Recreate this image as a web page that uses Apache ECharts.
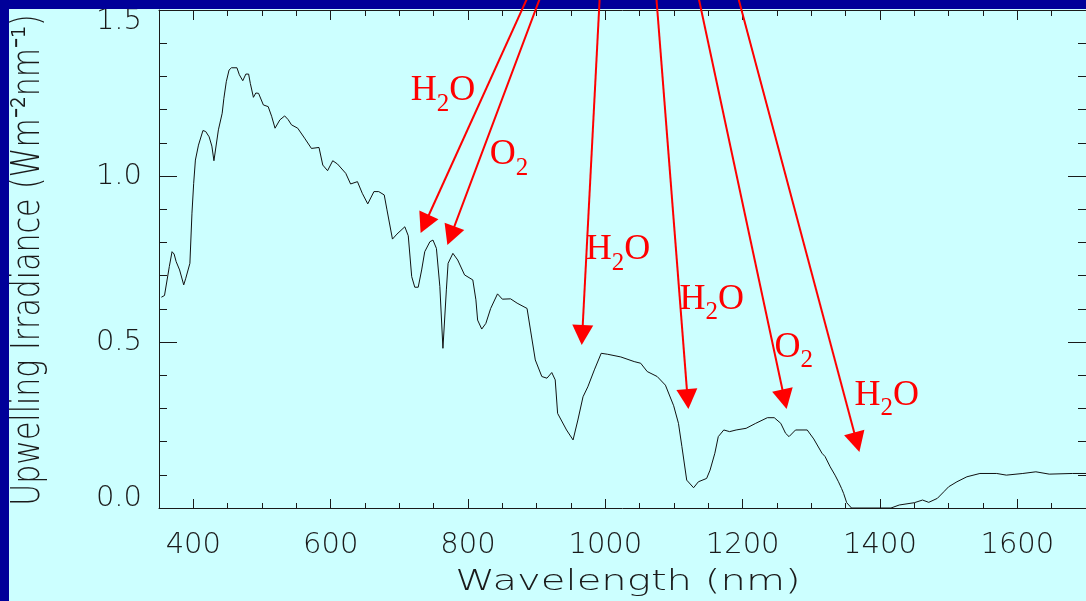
<!DOCTYPE html>
<html>
<head>
<meta charset="utf-8">
<script src="https://cdn.jsdelivr.net/npm/echarts@6.0.0/dist/echarts.min.js"></script>
<style>
html,body{margin:0;padding:0;background:#000099;}
#chart{width:1086px;height:601px;}
</style>
</head>
<body>
<div id="chart"></div>
<script>
// ---------------- data ----------------
const wavelength = [
  353.5,358,365,369,372,375,380,386,389,395,398,400.5,403,407.5,414,418,423,427,430,432,
  436.5,442,444.5,448,452,455.5,463.5,467,472,476.5,480.5,483,487.5,491,495,502,509,514,519,526,
  533,538,543,552,562,572,583,588.5,595.5,603,610,622,629,639,646,654,663,670,678,682,
  690,696.5,708,713,718,722.5,727.5,732.5,737,744.5,749,754,759,763.5,768.5,771,778,785,795,807,
  811.5,814,820,826,833,843,850,862,871.5,886,891,898,907.5,915,922,927,930.5,943.5,953,960,
  967.5,974.5,984,994,1003.5,1022.5,1042,1051.5,1061,1075.5,1087.5,1099.5,1106.5,1111.5,1118.5,1128.5,1135.5,1147.5,1152.5,1159.5,
  1164.5,1172.5,1181,1190.5,1205,1219,1236,1246,1255.5,1262.5,1267.5,1277,1294,1303.5,1315.5,1320,1327.5,1334.5,1339.5,1344,
  1347,1351.5,1358.5,1416,1428,1450,1462,1471,1483.5,1493,1500,1512,1526.5,1545.5,1570,1584,1608,1627,1646.5,1680,1700
];
const irradiance = [
  0.635,0.640,0.727,0.772,0.765,0.742,0.717,0.672,0.692,0.737,0.888,0.978,1.048,1.093,1.137,1.134,1.118,1.090,1.046,1.050,
  1.139,1.189,1.234,1.284,1.319,1.326,1.326,1.305,1.287,1.307,1.307,1.279,1.237,1.250,1.249,1.214,1.209,1.180,1.144,1.169,
  1.181,1.170,1.154,1.144,1.114,1.083,1.086,1.033,1.016,1.046,1.036,1.008,0.976,0.983,0.948,0.916,0.953,0.953,0.943,0.898,
  0.810,0.825,0.847,0.820,0.697,0.665,0.665,0.717,0.772,0.802,0.807,0.782,0.667,0.481,0.657,0.737,0.767,0.747,0.702,0.687,
  0.627,0.566,0.539,0.556,0.601,0.645,0.629,0.630,0.617,0.601,0.536,0.446,0.396,0.391,0.408,0.386,0.285,0.235,0.205,0.265,
  0.335,0.365,0.416,0.466,0.463,0.455,0.441,0.436,0.411,0.396,0.370,0.308,0.255,0.185,0.084,0.061,0.079,0.089,0.114,0.165,
  0.215,0.235,0.230,0.235,0.240,0.255,0.272,0.272,0.255,0.225,0.215,0.235,0.235,0.208,0.165,0.155,0.124,0.099,0.079,0.059,
  0.044,0.016,0.000,0.000,0.009,0.016,0.024,0.017,0.029,0.049,0.064,0.079,0.094,0.104,0.104,0.099,0.104,0.109,0.102,0.104,0.104
];

const xMajorTicks = [400,600,800,1000,1200,1400,1600];
const xMinorTicks = [350,400,450,500,550,600,650,700,750,800,850,900,950,1000,1050,1100,1150,1200,1250,1300,1350,1400,1450,1500,1550,1600,1650,1700];
const yTickLabels = {0:'0.0', 0.5:'0.5', 1:'1.0', 1.5:'1.5'};

const xTitle = 'Wavelength (nm)';
const yTitle = 'Upwelling Irradiance (Wm⁻²nm⁻¹)';

// absorption-band annotations: [molecule main letters], label anchor (wavelength, irradiance), arrow tail & tip
const bandLabels   = [['H','2','O'],['O','2',''],['H','2','O'],['H','2','O'],['O','2',''],['H','2','O']];
const labelAnchors = [[716.6,1.220],[831.7,1.027],[971.4,0.741],[1108,0.593],[1246.4,0.446],[1362.9,0.304]];
const arrowTails   = [[888.3,1.545],[906.5,1.545],[992,1.545],[1074,1.545],[1135,1.545],[1192.5,1.545]];
const arrowTips    = [[731,0.828],[770,0.792],[965.6,0.491],[1121,0.298],[1264,0.298],[1370,0.169]];

// ---------------- chart ----------------
const FONT = 'DejaVu Sans';
const INK = '#1a1a1a';
const chart = echarts.init(document.getElementById('chart'), null, {renderer:'canvas'});

const lblStyle = {fontFamily:FONT, fontWeight:200, fontSize:29, color:INK};

function xAxisDef(pos, major) {
  return {
    type:'value', position:pos, min:350, max:1700, gridIndex:0,
    axisLine:{show:major, onZero:false, lineStyle:{color:INK, width:1}},
    axisTick:{show:true, inside:true, length: major ? (pos==='bottom'?9:10) : (pos==='bottom'?5:6),
              customValues: major ? xMajorTicks : xMinorTicks, lineStyle:{color:INK, width:1}},
    axisLabel: (major && pos==='bottom') ? Object.assign({show:true, margin:23, customValues:xMajorTicks,
              formatter: v => String(v)}, lblStyle) : {show:false},
    splitLine:{show:false}
  };
}
function yAxisDef(pos) {
  return {
    type:'value', position:pos, min:0, max:1.5, interval:0.5, gridIndex:0,
    axisLine:{show:true, onZero:false, lineStyle:{color:INK, width:1}},
    axisTick:{show:true, inside:true, length:18, lineStyle:{color:INK, width:1}},
    minorTick:{show:true, splitNumber:5, length:8, lineStyle:{color:INK, width:1}},
    axisLabel: pos==='left' ? Object.assign({show:true, margin:17,
      formatter: v => {
        const s = yTickLabels[v] !== undefined ? yTickLabels[v] : v.toFixed(1);
        if (v === 0) return '{lo|' + s + '}';
        if (Math.abs(v - 1.5) < 1e-9) return '{hi|' + s + '}';
        return s;
      },
      rich:{
        lo:Object.assign({padding:[0,0,20,0]}, lblStyle),
        hi:Object.assign({padding:[22,0,0,0]}, lblStyle)
      }}, lblStyle) : {show:false},
    splitLine:{show:false}, minorSplitLine:{show:false}
  };
}

const option = {
  animation:false,
  backgroundColor:'#ccffff',
  grid:{left:159, top:10, width:938, height:498, containLabel:false},
  xAxis:[xAxisDef('bottom',true), xAxisDef('bottom',false), xAxisDef('top',true), xAxisDef('top',false)],
  yAxis:[yAxisDef('left'), yAxisDef('right')],
  series:[{
    type:'line', xAxisIndex:0, yAxisIndex:0,
    data: wavelength.map((w,i) => [w, irradiance[i]]),
    showSymbol:false, symbol:'none',
    lineStyle:{color:'#111', width:1},
    z:5
  }]
};
chart.setOption(option);

// ---------------- overlays ----------------
const RED = '#ff0000';
const graphics = [
  {type:'rect', shape:{x:0, y:0, width:1086, height:9}, style:{fill:'#000099'}, z:50},
  {type:'rect', shape:{x:0, y:0, width:9, height:601}, style:{fill:'#000099'}, z:50},
  {type:'text', x:628, y:582.5, scaleX:1.46, z:60,
   style:{text:xTitle, fontFamily:FONT, fontWeight:200, fontSize:27.5, fill:INK,
          align:'center', verticalAlign:'middle', textAlign:'center', textVerticalAlign:'middle'}},
  {type:'text', x:29, y:260, rotation:Math.PI/2, scaleY:1.28, z:60,
   style:{text:yTitle, fontFamily:FONT, fontWeight:200, fontSize:30, fill:INK,
          align:'center', verticalAlign:'middle', textAlign:'center', textVerticalAlign:'middle'}}
];

const toPx = p => chart.convertToPixel({xAxisIndex:0, yAxisIndex:0}, p);
for (let i = 0; i < arrowTips.length; i++) {
  const T = toPx(arrowTails[i]), P = toPx(arrowTips[i]);
  const dx = P[0]-T[0], dy = P[1]-T[1], L = Math.hypot(dx, dy);
  const ux = dx/L, uy = dy/L, head = 20, half = 10.5;
  const bx = P[0]-ux*head, by = P[1]-uy*head;
  graphics.push({type:'line', z:100, shape:{x1:T[0], y1:T[1], x2:bx+ux*2, y2:by+uy*2},
                 style:{stroke:RED, lineWidth:2}});
  graphics.push({type:'polygon', z:100,
                 shape:{points:[[P[0],P[1]],[bx-uy*half, by+ux*half],[bx+uy*half, by-ux*half]]},
                 style:{fill:RED}});
}
for (let i = 0; i < bandLabels.length; i++) {
  const A = toPx(labelAnchors[i]);
  const [a, s, b] = bandLabels[i];
  graphics.push({type:'text', x:A[0], y:A[1]-12, z:100,
    style:{
      text:'{n|' + a + '}{s|' + s + '}' + (b ? '{n|' + b + '}' : ''),
      align:'left', verticalAlign:'middle', textAlign:'left', textVerticalAlign:'middle',
      rich:{
        n:{fontFamily:'Liberation Serif', fontSize:36, lineHeight:36, fill:RED, color:RED},
        s:{fontFamily:'Liberation Serif', fontSize:25, lineHeight:25, padding:[26,0,0,0], fill:RED, color:RED}
      }
    }});
}
chart.setOption({graphic:graphics});
</script>
</body>
</html>
